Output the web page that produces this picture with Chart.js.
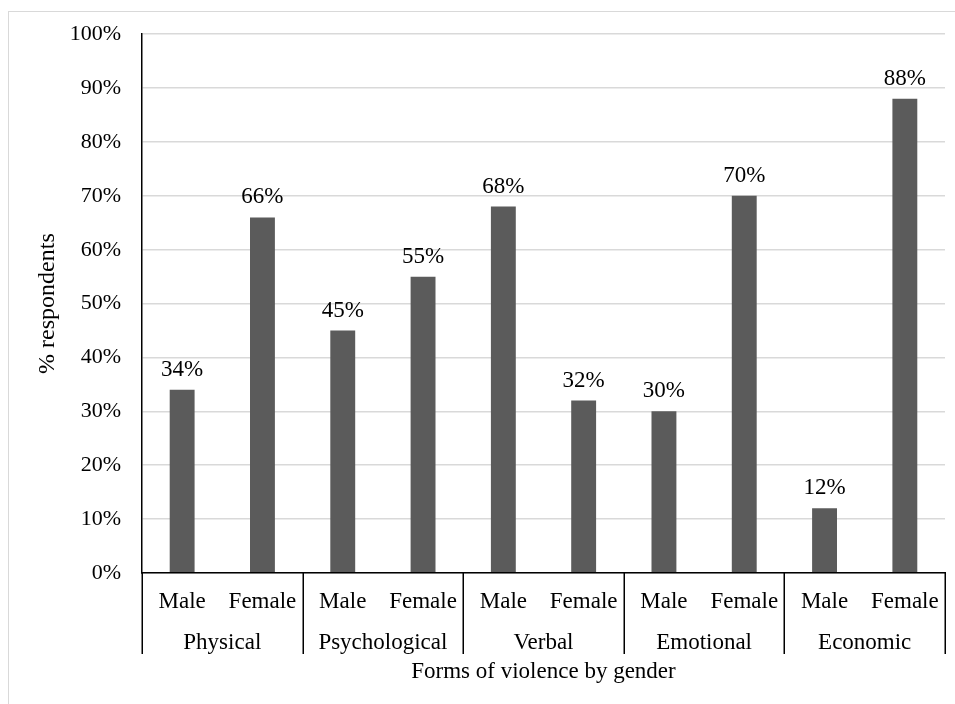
<!DOCTYPE html>
<html>
<head>
<meta charset="utf-8">
<title>Forms of violence by gender</title>
<script src="https://cdn.jsdelivr.net/npm/chart.js@4/dist/chart.umd.min.js"></script>
<style>
  html, body { margin: 0; padding: 0; background: #ffffff; overflow: hidden; }
  #frame {
    position: absolute; left: 8px; top: 11px; width: 1000px; height: 1000px;
    border-top: 1.5px solid #d9d9d9; border-left: 1.5px solid #d9d9d9;
  }
  #wrap { position: absolute; left: 0; top: 0; width: 955px; height: 704px; }
</style>
</head>
<body>
<div id="frame"></div>
<div id="wrap"><canvas id="chart"></canvas></div>
<script>
// Survey results: share of respondents per form of violence, split by gender
const forms = ['Physical', 'Psychological', 'Verbal', 'Emotional', 'Economic'];
const genders = ['Male', 'Female'];
const maleShare = [34, 45, 68, 30, 12];
const femaleShare = [66, 55, 32, 70, 88];

// One bar per (form, gender) pair, in reading order
const categories = forms.flatMap(() => genders);
const values = forms.flatMap((f, i) => [maleShare[i], femaleShare[i]]);

const SERIF = "'Liberation Serif', 'Times New Roman', Times, serif";
const TICK_SIZE = 22;
const LABEL_SIZE = 23;
const BAR_COLOR = '#5b5b5b';
const GRID_COLOR = '#d9d9d9';

// Value labels printed above each bar
const valueLabels = {
  id: 'valueLabels',
  afterDatasetsDraw(chart) {
    const ctx = chart.ctx;
    const meta = chart.getDatasetMeta(0);
    ctx.save();
    ctx.font = LABEL_SIZE + 'px ' + SERIF;
    ctx.fillStyle = '#000';
    ctx.textAlign = 'center';
    ctx.textBaseline = 'alphabetic';
    meta.data.forEach((bar, i) => {
      ctx.fillText(values[i] + '%', bar.x, bar.y - 14);
    });
    ctx.restore();
  }
};

// Vertical dividers between the form groups on the category axis
const groupDividers = {
  id: 'groupDividers',
  afterDraw(chart) {
    const x = chart.scales.x;
    const group = chart.scales.group;
    const ctx = chart.ctx;
    const yTop = chart.chartArea.bottom;
    const yBottom = group.top + 34;
    ctx.save();
    ctx.strokeStyle = '#000';
    ctx.lineWidth = 1.5;
    for (let g = 0; g <= forms.length; g++) {
      const px = Math.round(x.getPixelForValue(g * genders.length - 0.5)) + 0.25;
      ctx.beginPath();
      ctx.moveTo(px, yTop);
      ctx.lineTo(px, yBottom);
      ctx.stroke();
    }
    ctx.restore();
  }
};

new Chart(document.getElementById('chart'), {
  type: 'bar',
  data: {
    labels: categories,
    datasets: [{
      data: values,
      xAxisID: 'x',
      yAxisID: 'y',
      backgroundColor: BAR_COLOR,
      borderWidth: 0,
      categoryPercentage: 1,
      barPercentage: 0.31
    }]
  },
  options: {
    responsive: true,
    maintainAspectRatio: false,
    animation: false,
    layout: { padding: { top: 34, right: 10, left: 0, bottom: 0 } },
    plugins: { legend: { display: false }, tooltip: { enabled: false } },
    scales: {
      x: {
        type: 'category',
        position: 'bottom',
        weight: 0,
        grid: { display: false },
        border: { display: true, color: '#000', width: 1.5, z: 1 },
        ticks: {
          color: '#000',
          font: { family: SERIF, size: LABEL_SIZE },
          padding: 7.5,
          maxRotation: 0,
          autoSkip: false
        },
        afterFit(scale) { scale.height = 47; }
      },
      group: {
        type: 'category',
        axis: 'x',
        position: 'bottom',
        weight: 1,
        labels: forms,
        offset: true,
        grid: { display: false },
        border: { display: false },
        ticks: {
          color: '#000',
          font: { family: SERIF, size: LABEL_SIZE },
          padding: 1,
          maxRotation: 0,
          autoSkip: false
        },
        title: {
          display: true,
          text: 'Forms of violence by gender',
          color: '#000',
          font: { family: SERIF, size: LABEL_SIZE },
          padding: { top: 0, bottom: 18 }
        },
        afterFit(scale) { scale.height = 84; }
      },
      y: {
        min: 0,
        max: 100,
        grid: { color: GRID_COLOR, lineWidth: 1.5, drawTicks: false },
        border: { display: true, color: '#000', width: 1.5 },
        ticks: {
          stepSize: 10,
          color: '#000',
          font: { family: SERIF, size: TICK_SIZE },
          padding: 21,
          callback: v => v + '%'
        },
        title: {
          display: true,
          text: '% respondents',
          color: '#000',
          font: { family: SERIF, size: 24 },
          padding: { top: 33, bottom: 0 }
        },
        afterFit(scale) { scale.width = 142; }
      }
    }
  },
  plugins: [valueLabels, groupDividers]
});
</script>
</body>
</html>
